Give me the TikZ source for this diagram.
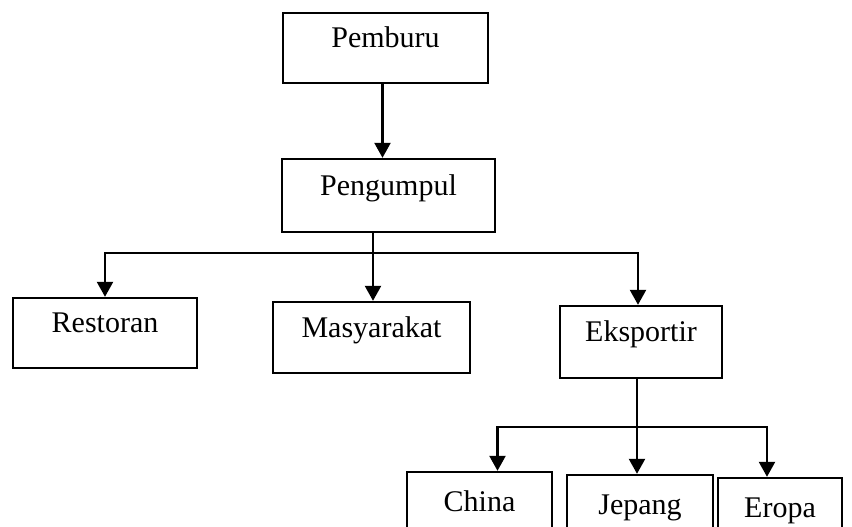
\documentclass[tikz,border=0pt]{standalone}
\usepackage{fontspec}
\setmainfont{Liberation Serif}
\usetikzlibrary{arrows.meta}
\usetikzlibrary{positioning}
\tikzset{box/.style = {draw, rectangle, line width = 2.4pt, inner sep = 0,
                       text height = 0.7em, text depth = 0.75em,
                       font = \fontsize{30}{34}\selectfont}}
\tikzset{arr/.style = {line width = 2.4pt, line join = miter, -{Triangle[width = 16pt, length = 15pt]}}}

\begin{document}
\begin{tikzpicture}[x = 1pt, y = -1pt]
    \useasboundingbox (0, 0) rectangle (852, 527);
    \clip (0, 0) rectangle (852, 527);

    \node [box, minimum width = 205, minimum height = 70] (pemburu) at (385.5, 48) {Pemburu};
    \node [box, minimum width = 213, minimum height = 73] (pengumpul) at (388.5, 195.5) {Pengumpul};

    \node [box, minimum width = 184, minimum height = 70] (restoran) at (105, 333) {Restoran};
    \node [box, minimum width = 197, minimum height = 71] (masyarakat) at (371.5, 337.5) {Masyarakat};
    \node [box, minimum width = 162, minimum height = 72] (eksportir) at (641, 342) {Eksportir};

    \node [box, minimum width = 145, minimum height = 80] (china) at (479.5, 512) {China};
    \node [box, minimum width = 146, minimum height = 80] (jepang) at (640, 515) {Jepang};
    \node [box, minimum width = 124, minimum height = 80] (eropa) at (780, 518) {Eropa};

    \coordinate (split1) at (373, 253);
    \coordinate (split2) at (637, 427);

    \draw [arr] ([xshift = -3]pemburu.south) -- ([xshift = -3]pemburu.south |- pengumpul.north);

    \draw [line width = 2.4pt] (split1 |- pengumpul.south) -- (split1);
    \draw [arr] (split1) -- (split1 |- masyarakat.north);
    \draw [arr] (split1) -| (restoran.north);
    \draw [arr] (split1) -| ([xshift = -3]eksportir.north);

    \draw [line width = 2.4pt] (split2 |- eksportir.south) -- (split2);
    \draw [arr] (split2) -- (split2 |- jepang.north);
    \draw [arr] (split2) -| ([xshift = 18]china.north);
    \draw [arr] (split2) -| ([xshift = -13]eropa.north);
  \end{tikzpicture}
\end{document}
